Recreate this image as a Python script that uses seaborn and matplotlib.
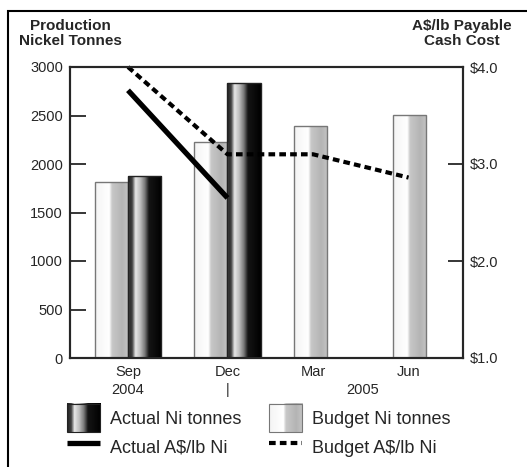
import numpy as np
import pandas as pd
import seaborn as sns
import matplotlib.pyplot as plt
from matplotlib.colors import LinearSegmentedColormap
from matplotlib.patches import Rectangle, Patch
from matplotlib.lines import Line2D
from matplotlib.legend_handler import HandlerBase
from matplotlib.image import BboxImage
from matplotlib.transforms import Bbox, TransformedBbox, blended_transform_factory

# quarterly production (tonnes) and payable cash cost (A$/lb)
quarters = ['Sep', 'Dec', 'Mar', 'Jun']
budget_tonnes = [1810, 2230, 2390, 2510]
actual_tonnes = [1880, 2830]
budget_cost = [4.0, 3.1, 3.1, 2.86]
actual_cost = [3.76, 2.65]

# where the quarter labels / cost points sit on the category axis
tick_pos = [0.0, 1.0, 1.86, 2.82]

sns.set_style('white')
plt.rcParams['font.family'] = ['Liberation Sans', 'DejaVu Sans']

df = pd.DataFrame({
    'quarter': quarters + quarters[:len(actual_tonnes)],
    'tonnes': budget_tonnes + actual_tonnes,
    'series': ['Budget'] * len(budget_tonnes) + ['Actual'] * len(actual_tonnes),
})

budget_cmap = LinearSegmentedColormap.from_list(
    'budget', [(0, '#f4f4f4'), (0.42, '#ffffff'), (0.5, '#c8c8c8'), (0.8, '#b4b4b4'), (1, '#c4c4c4')])
actual_cmap = LinearSegmentedColormap.from_list(
    'actual', [(0, '#202020'), (0.12, '#404040'), (0.22, '#e6e6e6'), (0.36, '#bdbdbd'),
               (0.5, '#777777'), (0.62, '#151515'), (1, '#000000')])
grad = np.linspace(0, 1, 128).reshape(1, -1)

fig = plt.figure(figsize=(5.27, 4.67), dpi=100)
ax = fig.add_axes([70 / 527, 1 - 358 / 467, 393 / 527, 291 / 467])

sns.barplot(data=df, x='quarter', y='tonnes', hue='series', order=quarters,
            hue_order=['Budget', 'Actual'], width=0.667, saturation=1,
            legend=False, ax=ax)

# replace flat fills with the shaded cylinder look
for cont, cmap, ec in zip(ax.containers, [budget_cmap, actual_cmap], ['#777777', '#222222']):
    for bar in cont:
        x0, y0 = bar.get_x(), bar.get_y()
        w, h = bar.get_width(), bar.get_height()
        bar.set_facecolor('none')
        bar.set_edgecolor(ec)
        bar.set_linewidth(1.0)
        bar.set_zorder(3)
        im = ax.imshow(grad, cmap=cmap, extent=[x0, x0 + w, y0, y0 + h],
                       aspect='auto', interpolation='bilinear', zorder=2)
        im.set_clip_path(bar)

ax.set_xlim(-0.583, 3.367)
ax.set_ylim(0, 3000)
ax.set_yticks(range(0, 3001, 500))
ax.set_xticks(tick_pos, quarters)
ax.set_xlabel('')
ax.set_ylabel('')
ax.tick_params(axis='y', direction='in', length=11.5, width=1.3, pad=5, labelsize=10.5)
ax.tick_params(axis='x', length=0, pad=5, labelsize=10.5)
for s in ax.spines.values():
    s.set_visible(True)
    s.set_color('black')
    s.set_linewidth(1.5)

trans = blended_transform_factory(ax.transData, ax.transAxes)
ax.text(tick_pos[0], -0.11, '2004', transform=trans, ha='center', va='center', fontsize=10.5)
ax.text(tick_pos[1], -0.11, '|', transform=trans, ha='center', va='center', fontsize=10.5)
ax.text(2.36, -0.11, '2005', transform=trans, ha='center', va='center', fontsize=10.5)

ax2 = ax.twinx()
ax2.set_ylim(1, 4)
ax2.set_yticks([1, 2, 3, 4], ['$%.1f' % v for v in [1, 2, 3, 4]])
ax2.tick_params(axis='y', direction='in', length=11, width=1.3, pad=5, labelsize=10.5)
ax2.plot(tick_pos[:len(actual_cost)], actual_cost, color='black', lw=3.8,
         solid_capstyle='butt', clip_on=False)
ax2.plot(tick_pos, budget_cost, color='black', lw=3.0, linestyle=(0, (1.6, 1.0)),
         clip_on=False)
for s in ax2.spines.values():
    s.set_linewidth(1.5)

fig.text(70 / 527, 1 - 19 / 467, 'Production\nNickel Tonnes', ha='center', va='top',
         fontsize=11, fontweight='bold', linespacing=1.1)
fig.text(462 / 527, 1 - 19 / 467, 'A$/lb Payable\nCash Cost', ha='center', va='top',
         fontsize=11, fontweight='bold', linespacing=1.1)


class GradientHandler(HandlerBase):
    def __init__(self, cmap, edge):
        super().__init__()
        self.cmap = cmap
        self.edge = edge

    def create_artists(self, legend, orig_handle, xdescent, ydescent, width, height,
                       fontsize, trans):
        bb = TransformedBbox(Bbox.from_bounds(-xdescent, -ydescent, width, height), trans)
        img = BboxImage(bb, cmap=self.cmap, interpolation='bilinear')
        img.set_data(grad)
        img.set_clim(0, 1)
        rect = Rectangle((-xdescent, -ydescent), width, height, fill=False,
                         edgecolor=self.edge, lw=0.8, transform=trans)
        return [img, rect]


h_actual = Patch(label='Actual Ni tonnes')
h_budget = Patch(label='Budget Ni tonnes')
h_aline = Line2D([], [], color='black', lw=3.8, solid_capstyle='butt', label='Actual A$/lb Ni')
h_bline = Line2D([], [], color='black', lw=3.0, linestyle=(0, (1.6, 1.0)), label='Budget A$/lb Ni')

fig.legend(handles=[h_actual, h_aline, h_budget, h_bline], ncol=2, frameon=False,
           loc='upper left', bbox_to_anchor=(67 / 527, 1 - 404 / 467),
           borderaxespad=0, borderpad=0, fontsize=13, handlelength=1.85,
           handleheight=2.05, handletextpad=0.55, labelspacing=0.02, columnspacing=1.5,
           handler_map={h_actual: GradientHandler(actual_cmap, '#222222'),
                        h_budget: GradientHandler(budget_cmap, '#777777')})

# outer frame of the original graphic
fig.patches.append(Rectangle((8 / 527, -0.2), 1.2, 1.2 - 11 / 467, fill=False,
                             edgecolor='black', lw=1.5, transform=fig.transFigure))

fig.savefig('out.png', dpi=100)
